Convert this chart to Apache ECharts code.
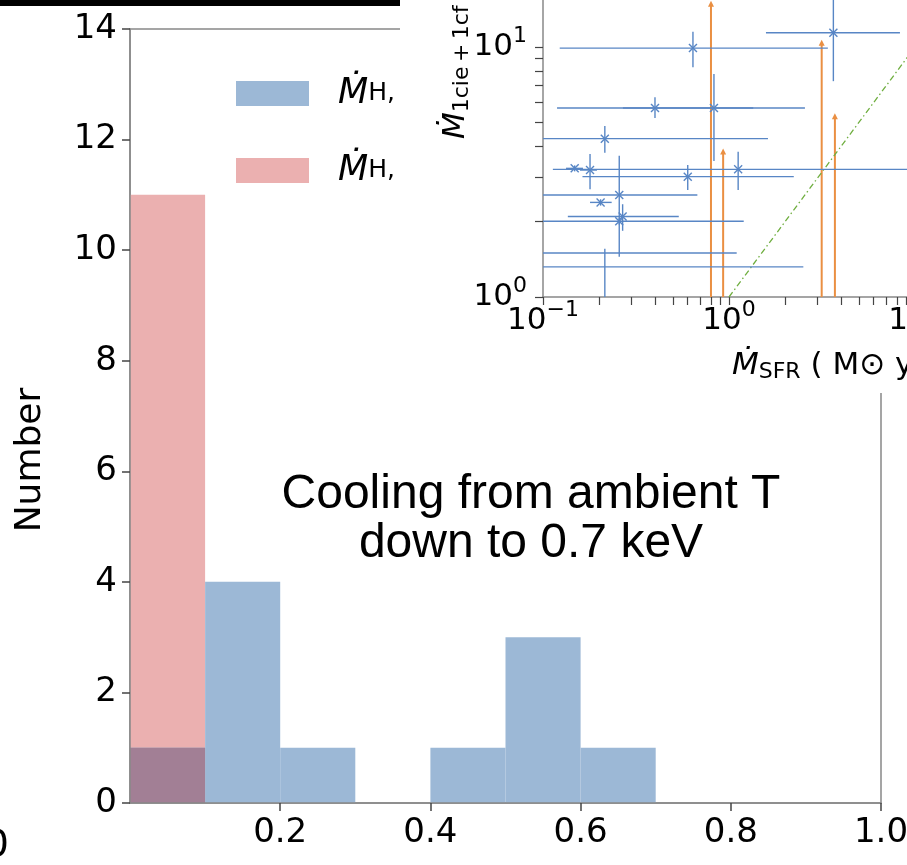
<!DOCTYPE html>
<html>
<head>
<meta charset="utf-8">
<script src="https://cdn.jsdelivr.net/npm/echarts@6/dist/echarts.min.js"></script>
<style>
  html, body { margin: 0; padding: 0; background: #fff; }
  #chart { width: 907px; height: 865px; }
</style>
</head>
<body>
<div id="chart"></div>
<script>
// ---- Histogram of cooling fractions ----
const binEdges   = [0, 0.1, 0.2, 0.3, 0.4, 0.5, 0.6, 0.7];
const countsBlue = [1, 4, 1, 0, 1, 3, 1];
const countsRed  = [11, 0, 0, 0, 0, 0, 0];
const fracTicks  = [0.2, 0.4, 0.6, 0.8, 1.0];
const numberMax  = 14;
const numberStep = 2;

// ---- Inset: cooling rate against star formation rate ----
const sfr    = [0.64, 3.64, 0.40, 0.83, 0.215, 0.148, 1.12, 0.179, 0.60, 0.257, 0.204, 0.257, 0.268, 0.07, 0.07, 0.215];
const sfrLo  = [0.123, 1.58, 0.119, 0.269, 0.08, 0.133, 0.113, 0.158, 0.163, 0.09, 0.179, 0.09, 0.136, 0.03, 0.03, 0.215];
const sfrHi  = [3.40, 8.3, 2.56, 1.35, 1.62, 0.164, 12, 0.195, 2.23, 0.676, 0.234, 1.20, 0.537, 1.10, 2.51, 0.215];
const mdot   = [9.9, 11.4, 5.7, 5.7, 4.3, 3.27, 3.24, 3.22, 3.03, 2.56, 2.39, 2.01, 2.10, 1.50, 1.32, 0.8];
const mdotLo = [8.3, 7.3, 5.2, 3.5, 3.78, 3.18, 2.68, 2.70, 2.68, 1.45, 2.32, 1.95, 1.84, 1.50, 1.32, 0.5];
const mdotHi = [11.5, 17, 6.3, 7.8, 4.83, 3.36, 3.81, 3.73, 3.37, 3.67, 2.46, 2.07, 2.35, 1.50, 1.32, 1.56];
// lower limits (arrows)
const limSfr  = [0.80, 0.93, 3.15, 3.71];
const limMdot = [15.3, 3.93, 10.7, 5.43];
// one-to-one reference line
const unity = [1, 15];

const xTickVals = [0.1,0.2,0.3,0.4,0.5,0.6,0.7,0.8,0.9,1,2,3,4,5,6,7,8,9,10];
const yTickVals = [1,2,3,4,5,6,7,8,9,10];
const xLabelVals = [0.1, 1, 10];
const yLabelVals = [1, 10];

const FONT = 'DejaVu Sans';
const SPINE = '#888888';
const TICK = '#444444';
const BLUE_BAR = '#9cb8d6';
const RED_BAR = '#ebb0b0';
const MIX_BAR = '#a27f95';
const ERR_BLUE = '#5886c5';
const LIM_ORANGE = '#ea8f42';

function binData(counts) {
  return counts.map((c, i) => [binEdges[i], binEdges[i + 1], c]);
}
const overlapCounts = countsBlue.map((c, i) => Math.min(c, countsRed[i]));

function renderBin(params, api) {
  const p0 = api.coord([api.value(0), 0]);
  const p1 = api.coord([api.value(1), api.value(2)]);
  return {
    type: 'rect',
    shape: { x: p0[0], y: p1[1], width: p1[0] - p0[0], height: p0[1] - p1[1] },
    style: { fill: api.visual('color') }
  };
}

function renderErr(params, api) {
  const c = api.coord([api.value(0), api.value(1)]);
  const l = api.coord([api.value(2), api.value(1)]);
  const r = api.coord([api.value(3), api.value(1)]);
  const b = api.coord([api.value(0), api.value(4)]);
  const t = api.coord([api.value(0), api.value(5)]);
  const s = 4;
  const st = { stroke: ERR_BLUE, lineWidth: 1.4 };
  return {
    type: 'group',
    children: [
      { type: 'line', shape: { x1: l[0], y1: l[1], x2: r[0], y2: r[1] }, style: st },
      { type: 'line', shape: { x1: b[0], y1: b[1], x2: t[0], y2: t[1] }, style: st },
      { type: 'line', shape: { x1: c[0] - s, y1: c[1] - s, x2: c[0] + s, y2: c[1] + s }, style: st },
      { type: 'line', shape: { x1: c[0] - s, y1: c[1] + s, x2: c[0] + s, y2: c[1] - s }, style: st }
    ]
  };
}

function renderLimit(params, api) {
  const tip = api.coord([api.value(0), api.value(1)]);
  const base = api.coord([api.value(0), 1]);
  return {
    type: 'group',
    children: [
      { type: 'line', shape: { x1: base[0], y1: base[1], x2: tip[0], y2: tip[1] + 4 },
        style: { stroke: LIM_ORANGE, lineWidth: 2 } },
      { type: 'polygon', shape: { points: [[tip[0], tip[1]], [tip[0] - 3, tip[1] + 6], [tip[0] + 3, tip[1] + 6]] },
        style: { fill: LIM_ORANGE } }
    ]
  };
}

function logLabel(v) {
  const e = Math.round(Math.log10(v));
  return '{b|10}{e|' + (e < 0 ? '\u2212' + (-e) : e) + '}';
}
const logRich = {
  b: { fontSize: 31, fontFamily: FONT, color: '#000', lineHeight: 44 },
  e: { fontSize: 22, fontFamily: FONT, color: '#000', verticalAlign: 'top', lineHeight: 22 }
};

const insetLabelRich = {
  m: { fontSize: 31, fontStyle: 'italic', fontFamily: FONT, fill: '#000', lineHeight: 34 },
  s: { fontSize: 22, fontFamily: FONT, fill: '#000', lineHeight: 14, verticalAlign: 'bottom' },
  t: { fontSize: 31, fontFamily: FONT, fill: '#000', lineHeight: 34 },
  p: { fontSize: 22, fontFamily: FONT, fill: '#000', lineHeight: 14, verticalAlign: 'top' }
};

const chart = echarts.init(document.getElementById('chart'), null, { renderer: 'canvas' });

chart.setOption({
  animation: false,
  backgroundColor: '#fff',
  grid: [
    { left: 130, top: 29, width: 751, height: 774, show: true, borderColor: SPINE, borderWidth: 1.5,
      backgroundColor: 'transparent', containLabel: false, outerBoundsMode: 'none' },
    { left: 543, top: -3, width: 390.6, height: 300, show: false, containLabel: false, outerBoundsMode: 'none' }
  ],
  xAxis: [
    {
      gridIndex: 0, type: 'value', min: 0, max: 1, interval: 0.2, z: 3,
      axisLine: { show: true, lineStyle: { color: SPINE, width: 1.5 } },
      axisTick: { show: true, length: 8, lineStyle: { color: TICK, width: 1.5 }, customValues: fracTicks },
      axisLabel: { customValues: fracTicks, fontSize: 34, fontFamily: FONT, color: '#000', margin: 13,
        formatter: v => v.toFixed(1) },
      splitLine: { show: false }
    },
    {
      gridIndex: 1, type: 'log', logBase: 10, min: 0.1, max: Math.pow(10, 1.1), z: 11,
      axisLine: { show: true, lineStyle: { color: SPINE, width: 1.5 } },
      axisTick: { show: true, length: 8, lineStyle: { color: TICK, width: 1.2 }, customValues: xTickVals },
      minorTick: { show: false },
      axisLabel: { customValues: xLabelVals, formatter: logLabel, rich: logRich, margin: 2 },
      splitLine: { show: false }
    }
  ],
  yAxis: [
    {
      gridIndex: 0, type: 'value', min: 0, max: numberMax, interval: numberStep, z: 3,
      axisLine: { show: true, lineStyle: { color: SPINE, width: 1.5 } },
      axisTick: { show: true, length: 8, lineStyle: { color: TICK, width: 1.5 } },
      axisLabel: { fontSize: 34, fontFamily: FONT, color: '#000', margin: 13 },
      splitLine: { show: false }
    },
    {
      gridIndex: 1, type: 'log', logBase: 10, min: 1, max: Math.pow(10, 1.2), z: 11,
      axisLine: { show: true, lineStyle: { color: SPINE, width: 1.5 } },
      axisTick: { show: true, length: 8, lineStyle: { color: TICK, width: 1.2 }, customValues: yTickVals },
      minorTick: { show: false },
      axisLabel: { customValues: yLabelVals, formatter: logLabel, rich: logRich, margin: 16 },
      splitLine: { show: false }
    }
  ],
  legend: {
    orient: 'vertical', left: 236, top: 76, padding: 0, itemWidth: 73, itemHeight: 25, itemGap: 42,
    icon: 'rect', selectedMode: false, z: 4,
    data: ['MdotH_a', 'MdotH_b'],
    formatter: () => '{m|\u1E40}{s|H,}',
    textStyle: {
      rich: {
        m: { fontSize: 35, fontStyle: 'italic', fontFamily: FONT, color: '#000', lineHeight: 25, padding: [0, 0, 0, 24] },
        s: { fontSize: 25, fontFamily: FONT, color: '#000', lineHeight: 12, verticalAlign: 'bottom' }
      }
    }
  },
  series: [
    { name: 'MdotH_b', type: 'custom', xAxisIndex: 0, yAxisIndex: 0, z: 2,
      itemStyle: { color: RED_BAR }, renderItem: renderBin,
      encode: { x: [0, 1], y: 2 }, data: binData(countsRed) },
    { name: 'MdotH_a', type: 'custom', xAxisIndex: 0, yAxisIndex: 0, z: 2,
      itemStyle: { color: BLUE_BAR }, renderItem: renderBin,
      encode: { x: [0, 1], y: 2 }, data: binData(countsBlue) },
    { name: 'overlap', type: 'custom', xAxisIndex: 0, yAxisIndex: 0, z: 2,
      itemStyle: { color: MIX_BAR }, renderItem: renderBin,
      encode: { x: [0, 1], y: 2 }, data: binData(overlapCounts) },

    { name: 'unity', type: 'line', xAxisIndex: 1, yAxisIndex: 1, z: 12, clip: true,
      symbol: 'none', silent: true,
      lineStyle: { color: '#6fae3f', width: 1.3, type: [6, 3, 1.5, 3] },
      data: unity.map(v => [v, v]) },
    { name: 'limits', type: 'custom', xAxisIndex: 1, yAxisIndex: 1, z: 12, clip: true,
      renderItem: renderLimit, encode: { x: 0, y: 1 },
      data: limSfr.map((x, i) => [x, limMdot[i]]) },
    { name: 'rates', type: 'custom', xAxisIndex: 1, yAxisIndex: 1, z: 13, clip: true,
      renderItem: renderErr, encode: { x: 0, y: 1 },
      data: sfr.map((x, i) => [x, mdot[i], sfrLo[i], sfrHi[i], mdotLo[i], mdotHi[i]]) }
  ],
  graphic: {
    elements: [
      { type: 'rect', z: 20, shape: { x: 0, y: 0, width: 400, height: 6 }, style: { fill: '#000' } },
      { type: 'rect', z: 10, shape: { x: 400, y: 0, width: 507, height: 393 }, style: { fill: '#fff' } },
      { type: 'text', z: 5, x: 31, y: 460, rotation: Math.PI / 2,
        style: { text: 'Number', fontSize: 36, fontFamily: FONT, fill: '#000',
          align: 'center', verticalAlign: 'middle', textAlign: 'center', textVerticalAlign: 'middle' } },
      { type: 'text', z: 5, x: 531, y: 519,
        style: { text: 'Cooling from ambient T\ndown to 0.7 keV', fontSize: 48, fontFamily: 'Liberation Sans',
          lineHeight: 49, fill: '#000', align: 'center', verticalAlign: 'middle',
          textAlign: 'center', textVerticalAlign: 'middle' } },
      { type: 'text', z: 5, x: 9, y: 846,
        style: { text: '0', fontSize: 38, fontFamily: FONT, fill: '#000',
          align: 'right', verticalAlign: 'middle', textAlign: 'right', textVerticalAlign: 'middle' } },
      { type: 'text', z: 12, x: 732, y: 366,
        style: {
          text: '{m|\u1E40}{s|SFR}{t| ( M\u2299 yr}{p|\u22121}{t| )}',
          align: 'left', verticalAlign: 'middle', textAlign: 'left', textVerticalAlign: 'middle',
          rich: insetLabelRich
        } },
      { type: 'text', z: 12, x: 456, y: 139, rotation: Math.PI / 2,
        style: {
          text: '{m|\u1E40}{s|1cie\u2009+\u20091cf}{t| ( M\u2299 yr}{p|\u22121}{t| )}',
          align: 'left', verticalAlign: 'middle', textAlign: 'left', textVerticalAlign: 'middle',
          rich: insetLabelRich
        } }
    ]
  }
});
</script>
</body>
</html>
